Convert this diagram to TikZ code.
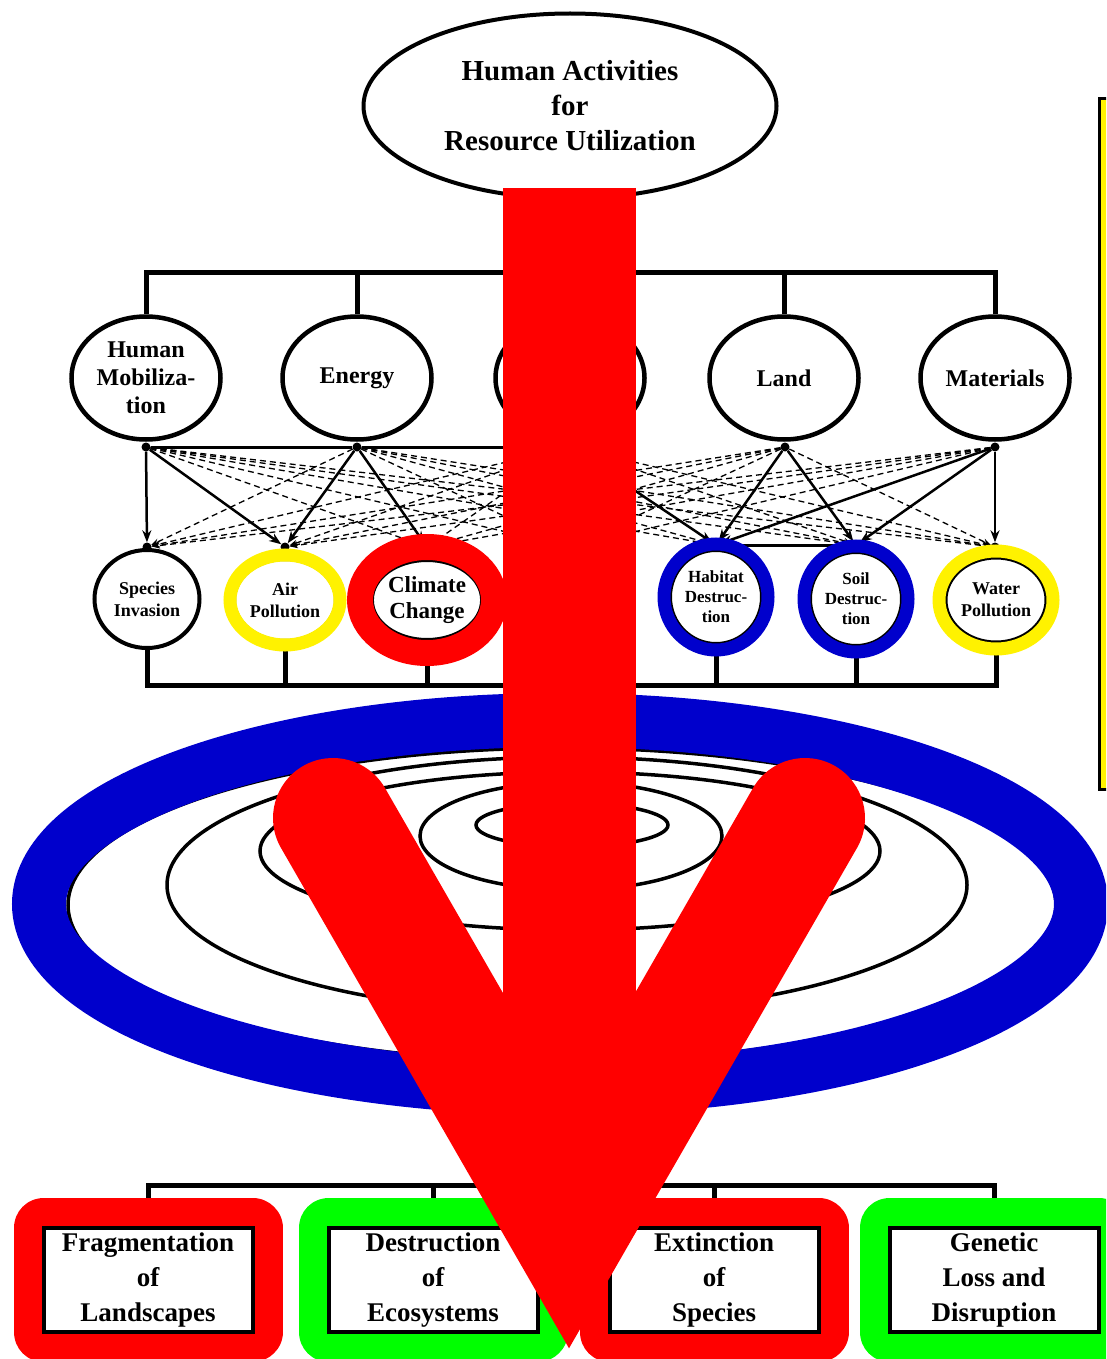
\documentclass[tikz,border=0pt]{standalone}
\usepackage{fontspec}
\setmainfont{Liberation Serif}
\usetikzlibrary{shapes.geometric,arrows.meta}
\definecolor{ringblue}{RGB}{0,0,204}
\definecolor{boxgreen}{RGB}{0,255,0}

\begin{document}
\begin{tikzpicture}[x=1pt,y=-1pt,
  res/.style={draw,ellipse,line width=4.5pt,inner sep=0pt,minimum width=149,minimum height=123,align=center,font=\fontsize{24}{28}\selectfont\bfseries},
  imp/.style={draw,ellipse,line width=4pt,inner sep=0pt,align=center},
  dot/.style={circle,fill,inner sep=0pt,minimum size=9},
  tree/.style={line width=5pt},
  solidarr/.style={line width=2.5pt,-{Stealth[length=12pt,width=9pt]}},
  dasharr/.style={line width=1.3pt,dash pattern=on 6pt off 4pt,-{Stealth[length=8pt,width=6pt]}},
  colring/.style={draw=#1,line width=13pt},
  outbox/.style={draw,line width=4pt,fill=white,inner sep=0pt,minimum width=209,minimum height=104,align=center,font=\fontsize{27}{35}\selectfont\bfseries,preaction={draw=#1,line width=60pt,line join=round}}]

\useasboundingbox (0,0) rectangle (1106,1359);
\fill[white] (0,0) rectangle (1106,1359);
\clip (0,0) rectangle (1106,1359);

% top level
\node[draw,ellipse,line width=4pt,inner sep=0pt,minimum width=413,minimum height=185,align=center,font=\fontsize{29}{35}\selectfont\bfseries] (title) at (570,106) {Human Activities\\for\\Resource Utilization};

\node[res] (hum) at (146,378) {Human\\Mobiliza-\\tion};
\node[res] (energy) at (357,378) {Energy};
\node[res] (hidres) at (570,378) {};
\node[res] (land) at (784,378) {Land};
\node[res] (mat) at (995,378) {Materials};

\coordinate (topbar) at (570,272);
\draw[tree] (title) -- (topbar);
\foreach \n in {hum,energy,hidres,land,mat}
  \draw[tree] (\n.north) |- (topbar);

% links resources -> impacts
\node[dot] (r1) at (146,447) {};
\node[dot] (r2) at (357,447) {};
\node[dot] (r3) at (570,447) {};
\node[dot] (r4) at (785,447) {};
\node[dot] (r5) at (995,447) {};
\node[dot] (i1) at (147,547) {};
\node[dot] (i2) at (285,547) {};
\node[dot] (i3) at (427,547) {};
\coordinate (i4) at (570,547);
\node[dot] (i5) at (716,545) {};
\node[dot] (i6) at (856,545) {};
\node[dot] (i7) at (995,547) {};

\draw[line width=3pt] (r1) -- (r2) -- (r3);
\draw[line width=3pt] (i5) -- (i6);
\foreach \a/\b in {r1/i1,r1/i2,r2/i2,r2/i3,r3/i4,r3/i5,r4/i5,r4/i6,r5/i5,r5/i6,r5/i7}
  \draw[solidarr] (\a) -- (\b);
\foreach \a/\b in {r1/i3,r1/i4,r1/i5,r1/i6,r1/i7,r2/i1,r2/i4,r2/i5,r2/i6,r2/i7,r3/i1,r3/i2,r3/i3,r3/i6,r3/i7,r4/i1,r4/i2,r4/i3,r4/i4,r4/i7,r5/i1,r5/i2,r5/i3,r5/i4}
  \draw[dasharr] (\a) -- (\b);

% impacts
\node[imp,minimum width=105,minimum height=98,font=\fontsize{18}{22}\selectfont\bfseries] (spec) at (147,599) {Species\\Invasion};
\node[imp,minimum width=102,minimum height=82,font=\fontsize{18}{22}\selectfont\bfseries] (air) at (285,600) {Air\\Pollution};
\node[imp,minimum width=108,minimum height=80,font=\fontsize{23}{26}\selectfont\bfseries] (clim) at (427,600) {Climate\\Change};
\node[imp,minimum width=92,minimum height=94,font=\fontsize{17}{20}\selectfont\bfseries] (hab) at (716,597) {Habitat\\Destruc-\\tion};
\node[imp,minimum width=92,minimum height=94,font=\fontsize{17}{20}\selectfont\bfseries] (soil) at (856,599) {Soil\\Destruc-\\tion};
\node[imp,minimum width=101,minimum height=85,font=\fontsize{18}{22}\selectfont\bfseries] (water) at (996,600) {Water\\Pollution};

\coordinate (midbar) at (570,685);
\foreach \n in {spec,air,clim,hab,soil,water}
  \draw[tree] (\n.south) |- (midbar);

% nested ellipses
\foreach \cx/\cy/\rx/\ry in {562/905/494/157,567/885/400/128,570/851/310/79,571/836/151/54,572/825/96/22}
  \draw[line width=3.5pt] (\cx,\cy) ellipse [x radius=\rx,y radius=\ry];

% outcomes
\node[outbox=red] (frag) at (148,1280) {Fragmentation\\of\\Landscapes};
\node[outbox=boxgreen] (destr) at (433,1280) {Destruction\\of\\Ecosystems};
\node[outbox=red] (ext) at (714,1280) {Extinction\\of\\Species};
\node[outbox=boxgreen] (gen) at (994,1280) {Genetic\\Loss and\\Disruption};

\coordinate (lowbar) at (570,1185);
\foreach \n in {frag,destr,ext,gen}
  \draw[tree,shorten <=28pt] (\n.north) |- (lowbar);

\draw[fill=yellow,line width=3pt] (1099,99) rectangle (1130,789);

% highlights
\draw[colring=yellow] (air.center) ellipse [x radius=55,y radius=45];
\draw[colring=red,line width=26pt] (clim.center) ellipse [x radius=67,y radius=53];
\draw[colring=ringblue] (hab.center) ellipse [x radius=52,y radius=53];
\draw[colring=ringblue] (soil.center) ellipse [x radius=52,y radius=53];
\draw[colring=yellow] (water.center) ellipse [x radius=57,y radius=49];

\draw[ringblue,line width=54pt] (560,904) ellipse [x radius=521,y radius=184];

\draw[red,line width=133pt] (569,188) -- (569,1200);
\draw[red,line width=120pt,line cap=round,miter limit=10] (333,818) -- (569,1228) -- (805,818);
\end{tikzpicture}
\end{document}
